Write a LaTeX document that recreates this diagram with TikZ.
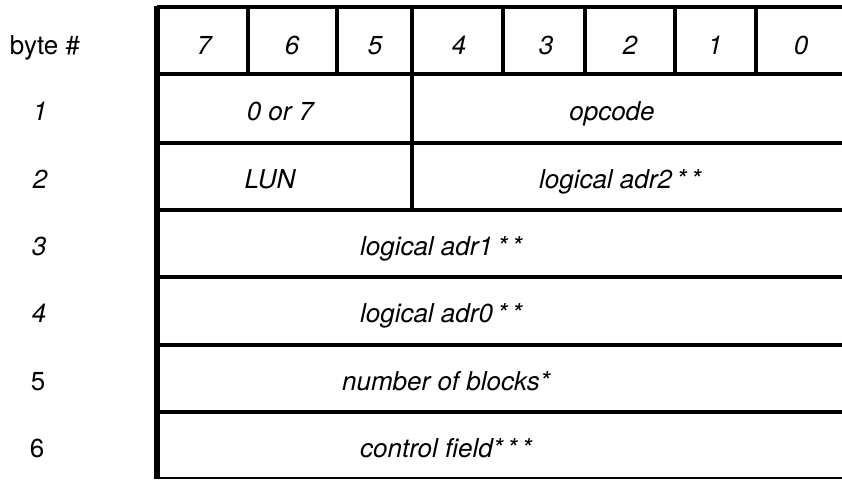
\documentclass[tikz,border=0pt]{standalone}
\usepackage{fontspec}
\setmainfont{TeX Gyre Heros}

\tikzset{
    rule/.style={line width=2pt},
    bitline/.style={line width=2.4pt},
    txt/.style={anchor=base,font=\fontsize{13}{15}\selectfont\itshape},
    num/.style={anchor=base,font=\fontsize{13}{15}\selectfont}
}

\begin{document}
\begin{tikzpicture}[x=0.5pt,y=-0.5pt]
                \useasboundingbox (0,0) rectangle (842,480);
                % frame and rows
                \draw[line width=2.6pt] (157,6)--(157,479);
                \draw[rule] (157,7)--(842,7);
                \draw[rule] (157,74)--(842,74);
                \draw[rule] (157,143)--(842,143);
                \draw[rule] (157,210)--(842,210);
                \draw[rule] (157,277)--(842,277);
                \draw[rule] (157,345)--(842,345);
                \draw[rule] (157,412)--(842,412);
                \draw[line width=1.4pt] (157,478)--(842,478);
                % bit columns
                \draw[bitline] (248,7)--(248,74);
                \draw[bitline] (337,7)--(337,74);
                \draw[rule] (412,7)--(412,210);
                \draw[bitline] (503,7)--(503,74);
                \draw[bitline] (585,7)--(585,74);
                \draw[bitline] (675,7)--(675,74);
                \draw[bitline] (756,7)--(756,74);
                % header
                \node[num] (byte) at (45,55) {byte \#};
                \node[txt] (b7) at (204,55) {7};
                \node[txt] (b6) at (292,55) {6};
                \node[txt] (b5) at (375,55) {5};
                \node[txt] (b4) at (459,55) {4};
                \node[txt] (b3) at (546,55) {3};
                \node[txt] (b2) at (630,55) {2};
                \node[txt] (b1) at (715,55) {1};
                \node[txt] (b0) at (801,55) {0};
                % byte numbers
                \node[txt] (r1) at (40,121) {1};
                \node[txt] (r2) at (40,189) {2};
                \node[txt] (r3) at (39,256) {3};
                \node[txt] (r4) at (39,323) {4};
                \node[num] (r5) at (38,391) {5};
                \node[num] (r6) at (37,458) {6};
                % fields
                \node[txt] (unit) at (280,121) {0 or 7};
                \node[txt] (opcode) at (612,121) {opcode};
                \node[txt] (lun) at (270,189) {LUN};
                \node[txt] (adr2) at (620,189) {logical adr2\,*\,*};
                \node[txt] (adr1) at (441,256) {logical adr1\,*\,*};
                \node[txt] (adr0) at (441,323) {logical adr0\,*\,*};
                \node[txt] (blocks) at (446,391) {number of blocks*};
                \node[txt] (control) at (446,458) {control field*\,*\,*};
            \end{tikzpicture}
\end{document}
